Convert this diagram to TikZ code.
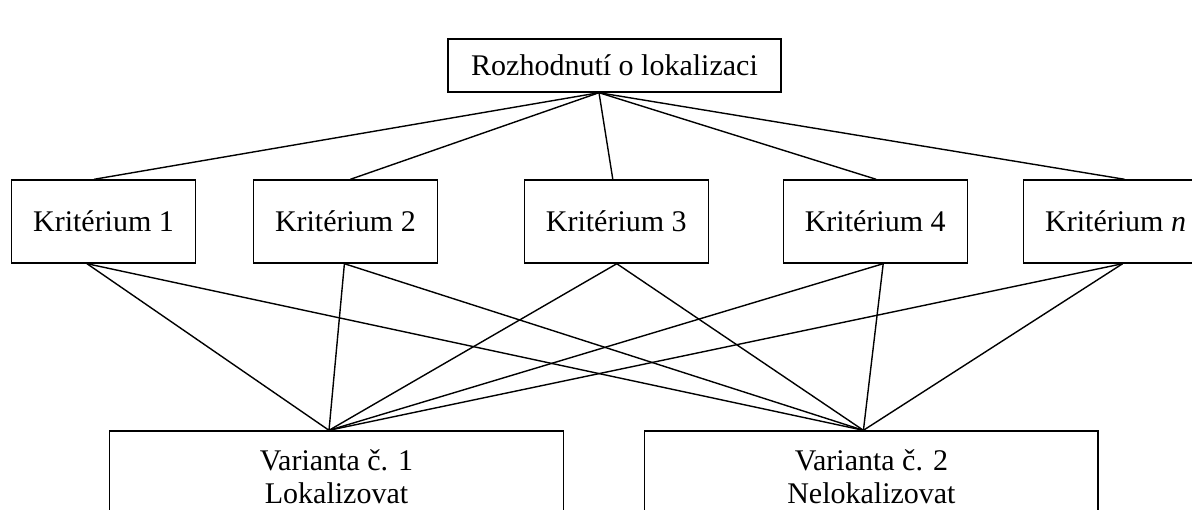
\documentclass[tikz,border=0pt]{standalone}
\usepackage{fontspec}
\setmainfont{Liberation Serif}
\usepackage{tikz}
\usetikzlibrary{positioning}

\begin{document}
\begin{tikzpicture}[node distance=2cm, line width=0.7pt]
	\tikzstyle{goal} = [rectangle, minimum width=166.5pt, minimum height=26.5pt, text centered, draw=black, inner sep=0pt, font=\fontsize{15}{16.5}\selectfont]
	\tikzstyle{crit} = [rectangle, minimum width=92pt, minimum height=41.5pt, text centered, draw=black, inner sep=0pt, font=\fontsize{15}{16.5}\selectfont]
	\tikzstyle{variant} = [rectangle, minimum width=226.75pt, minimum height=45.5pt, align=center, draw=black, inner sep=0pt, font=\fontsize{15}{16.5}\selectfont]
	\tikzstyle{link} = [line width=0.7pt]

	\useasboundingbox (0,0) rectangle (596pt,-254.5pt);

	\node (decision) [goal] at (307.25pt,-32.75pt) {Rozhodnutí o lokalizaci};
	\node (crit1) [crit] at (51.75pt,-110.75pt) {Kritérium 1};
	\node (crit2) [crit, right=28.25pt of crit1] {Kritérium 2};
	\node (crit3) [crit, right=42.75pt of crit2] {Kritérium 3};
	\node (crit4) [crit, right=36.75pt of crit3] {Kritérium 4};
	\node (critn) [crit, right=27.5pt of crit4] {Kritérium \textit{n}};
	\node (var1) [variant] at (168.25pt,-238.25pt) {Varianta č. 1\\Lokalizovat};
	\node (var2) [variant, right=40pt of var1] {Varianta č. 2\\Nelokalizovat};

	% hub points where the lines meet
	\coordinate (top) at ([xshift=-7.75pt]decision.south);
	\coordinate (v1) at ([xshift=-3.75pt]var1.north);
	\coordinate (v2) at ([xshift=-4pt]var2.north);

	\draw [link] (top) -- ([xshift=-4.75pt]crit1.north);
	\draw [link] (top) -- ([xshift=2.5pt]crit2.north);
	\draw [link] (top) -- ([xshift=-1.75pt]crit3.north);
	\draw [link] (top) -- ([xshift=0.5pt]crit4.north);
	\draw [link] (top) -- ([xshift=4.5pt]critn.north);

	\draw [link] ([xshift=-8.25pt]crit1.south) -- (v1);
	\draw [link] ([xshift=-8.25pt]crit1.south) -- (v2);
	\draw [link] ([xshift=-0.5pt]crit2.south) -- (v1);
	\draw [link] ([xshift=-0.5pt]crit2.south) -- (v2);
	\draw [link] ([xshift=0.25pt]crit3.south) -- (v1);
	\draw [link] ([xshift=0.25pt]crit3.south) -- (v2);
	\draw [link] ([xshift=4pt]crit4.south) -- (v1);
	\draw [link] ([xshift=4pt]crit4.south) -- (v2);
	\draw [link] ([xshift=3.5pt]critn.south) -- (v1);
	\draw [link] ([xshift=3.5pt]critn.south) -- (v2);
\end{tikzpicture}
\end{document}
